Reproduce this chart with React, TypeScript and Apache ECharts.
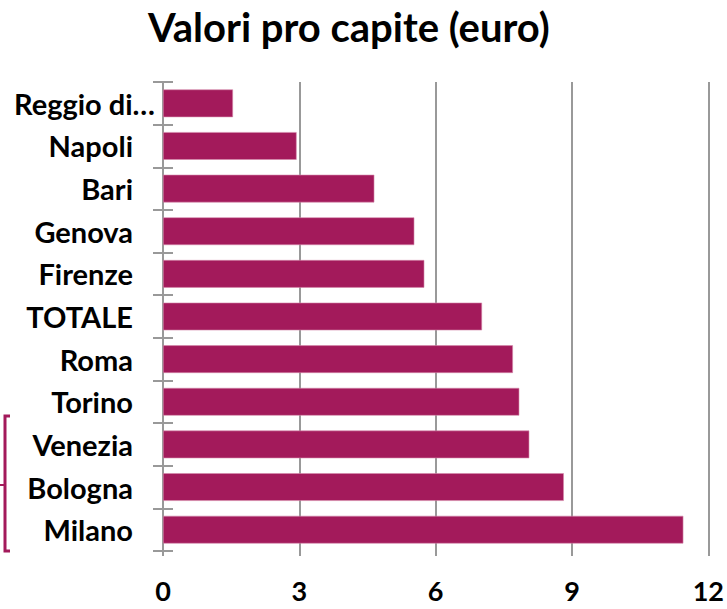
import React, { useEffect, useRef } from "react";
import * as echarts from "echarts";

const categories = ["Reggio di…", "Napoli", "Bari", "Genova", "Firenze", "TOTALE", "Roma", "Torino", "Venezia", "Bologna", "Milano"];
const values = [1.54, 2.94, 4.65, 5.53, 5.75, 7.02, 7.7, 7.84, 8.06, 8.82, 11.45];
const xTicks = [0, 3, 6, 9, 12];

const FONT = "Lato";
const BAR = "#A31A5B";
const GRAY = "#999999";

export default function App() {
  const ref = useRef<HTMLDivElement>(null);
  useEffect(() => {
    const chart = echarts.init(ref.current!, undefined, { renderer: "svg" });
    chart.setOption({
      animation: false,
      title: {
        text: "Valori pro capite (euro)",
        left: 143,
        top: 2,
        textStyle: { fontFamily: FONT, fontWeight: "bold", fontSize: 40, color: "#000" },
      },
      grid: { left: 163, right: 17, top: 82, bottom: 58 },
      xAxis: {
        type: "value",
        min: xTicks[0],
        max: xTicks[xTicks.length - 1],
        interval: 3,
        axisLine: { show: false },
        axisTick: { show: true, length: 5, lineStyle: { color: GRAY, width: 2 } },
        splitLine: { show: true, lineStyle: { color: GRAY, width: 2 } },
        axisLabel: { fontFamily: FONT, fontWeight: "bold", fontSize: 27, lineHeight: 27, color: "#000", margin: 26 },
      },
      yAxis: [
        {
          type: "category",
          data: categories,
          inverse: true,
          axisLine: { show: true, lineStyle: { color: GRAY, width: 2 } },
          axisTick: { show: true, length: 10, lineStyle: { color: GRAY, width: 2 } },
          axisLabel: {
            margin: 8,
            formatter: (v: string) => (v.endsWith("…") ? `{r|${v}}` : `{n|${v}}`),
            rich: {
              n: { fontFamily: FONT, fontWeight: "bold", fontSize: 29, color: "#000", padding: [0, 22, 0, 0] },
              r: { fontFamily: FONT, fontWeight: "bold", fontSize: 29, color: "#000", padding: [0, 0, 0, 0] },
            },
          },
        },
        {
          type: "category",
          data: categories,
          inverse: true,
          position: "left",
          axisLine: { show: false },
          axisTick: { show: true, inside: true, length: 10, lineStyle: { color: GRAY, width: 2 } },
          axisLabel: { show: false },
        },
      ],
      series: [
        {
          type: "bar",
          data: values,
          yAxisIndex: 0,
          barCategoryGap: "35%",
          itemStyle: { color: BAR, borderColor: "#D58AAB", borderWidth: 0.6 },
        },
      ],
      graphic: [
        {
          type: "polyline",
          shape: { points: [[10, 416], [5, 416], [5, 551], [10, 551]] },
          style: { stroke: BAR, lineWidth: 3, fill: "none" },
        },
        {
          type: "line",
          shape: { x1: 0, y1: 485, x2: 5, y2: 485 },
          style: { stroke: BAR, lineWidth: 2 },
        },
      ],
    });
    return () => chart.dispose();
  }, []);
  return <div ref={ref} style={{ position: "fixed", left: 0, top: 0, width: 727, height: 609, background: "#fff" }} />;
}
